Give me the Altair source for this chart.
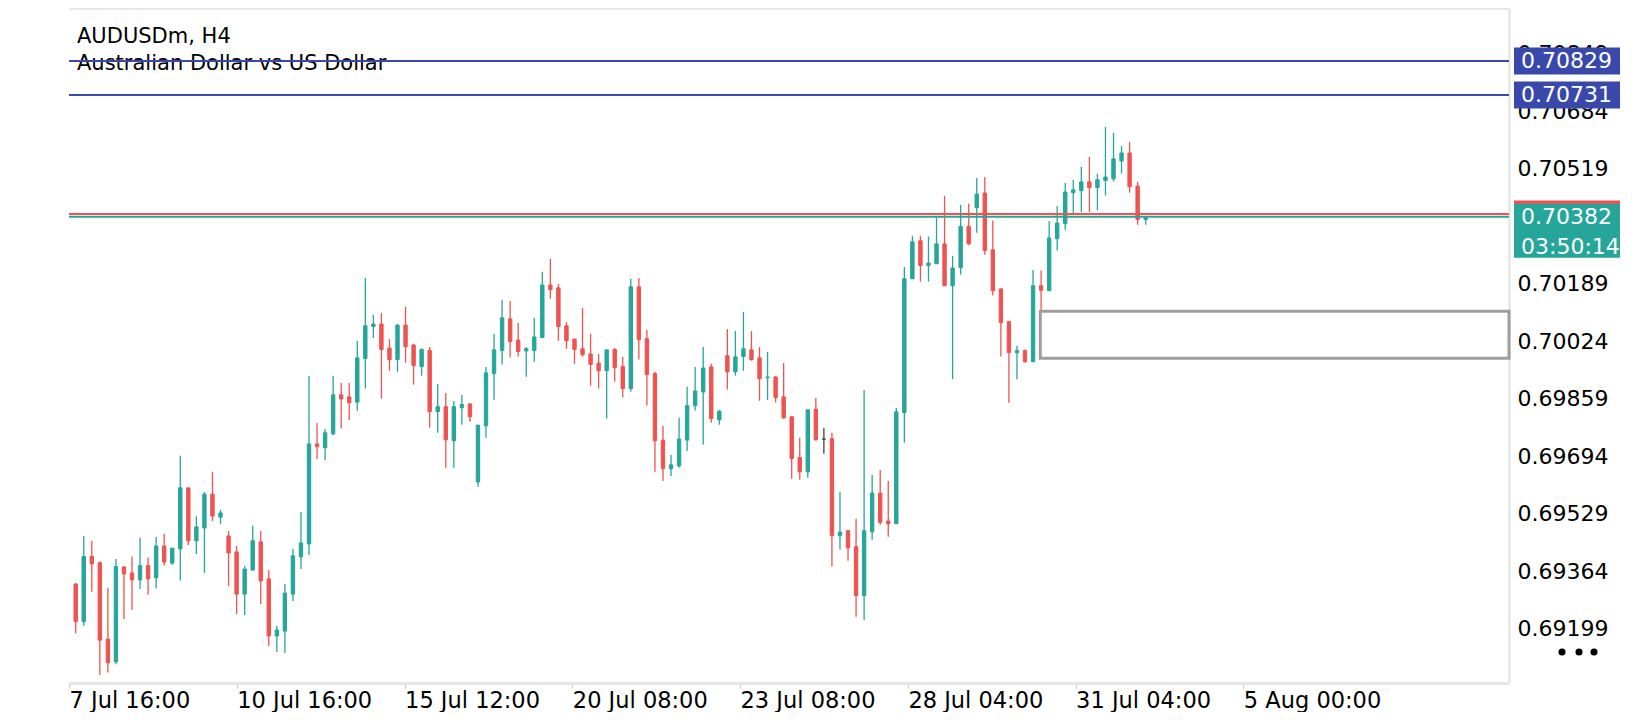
import altair as alt
import pandas as pd

# ---------------- data ----------------
opens = [0.69328, 0.69220, 0.69407, 0.69389, 0.69170, 0.69105, 0.69377, 0.69360, 0.69340, 0.69381,
         0.69346, 0.69437, 0.69388, 0.69429, 0.69604, 0.69452, 0.69489, 0.69586, 0.69520, 0.69466,
         0.69420, 0.69299, 0.69368, 0.69449, 0.69343, 0.69179, 0.69193, 0.69299, 0.69406, 0.69443,
         0.69730, 0.69719, 0.69759, 0.69871, 0.69865, 0.69850, 0.69975, 0.70067, 0.70074, 0.70005,
         0.69972, 0.70071, 0.70014, 0.69952, 0.69998, 0.69823, 0.69837, 0.69739, 0.69834, 0.69845,
         0.69621, 0.69782, 0.69932, 0.69998, 0.70089, 0.70028, 0.69997, 0.69998, 0.70035, 0.70186,
         0.70178, 0.70069, 0.70031, 0.70003, 0.69988, 0.69962, 0.69940, 0.70001, 0.69952, 0.69889,
         0.70181, 0.70032, 0.69932, 0.69741, 0.69659, 0.69667, 0.69741, 0.69840, 0.69879, 0.69951,
         0.69799, 0.69983, 0.69937, 0.69981, 0.70000, 0.69977, 0.69920, 0.69922, 0.69865, 0.69808,
         0.69691, 0.69650, 0.69830, 0.69744, 0.69745, 0.69467, 0.69481, 0.69435, 0.69295, 0.69478,
         0.69589, 0.69509, 0.69501, 0.69820, 0.70204, 0.70313, 0.70242, 0.70247, 0.70304, 0.70184,
         0.70236, 0.70354, 0.70408, 0.70450, 0.70287, 0.70175, 0.70081, 0.69992, 0.69998, 0.69966,
         0.70184, 0.70170, 0.70319, 0.70362, 0.70451, 0.70457, 0.70482, 0.70466, 0.70486, 0.70491,
         0.70542, 0.70565, 0.70470, 0.70374]
highs = [0.69330, 0.69466, 0.69452, 0.69393, 0.69317, 0.69400, 0.69378, 0.69407, 0.69461, 0.69404,
         0.69463, 0.69472, 0.69431, 0.69696, 0.69604, 0.69523, 0.69592, 0.69650, 0.69541, 0.69480,
         0.69437, 0.69380, 0.69495, 0.69480, 0.69368, 0.69208, 0.69328, 0.69429, 0.69535, 0.69925,
         0.69790, 0.69773, 0.69925, 0.69905, 0.69905, 0.70026, 0.70206, 0.70100, 0.70106, 0.70031,
         0.70074, 0.70123, 0.70017, 0.70004, 0.70008, 0.69902, 0.69876, 0.69853, 0.69871, 0.69845,
         0.69784, 0.69951, 0.70046, 0.70143, 0.70140, 0.70077, 0.70008, 0.70092, 0.70224, 0.70261,
         0.70189, 0.70080, 0.70031, 0.70120, 0.70046, 0.69988, 0.70000, 0.70005, 0.69980, 0.70204,
         0.70206, 0.70057, 0.69937, 0.69782, 0.69698, 0.69805, 0.69894, 0.69951, 0.70008, 0.69960,
         0.69828, 0.70060, 0.70054, 0.70109, 0.70054, 0.70008, 0.69994, 0.69925, 0.69962, 0.69808,
         0.69748, 0.69828, 0.69862, 0.69776, 0.69762, 0.69592, 0.69483, 0.69515, 0.69885, 0.69641,
         0.69655, 0.69624, 0.69833, 0.70238, 0.70327, 0.70327, 0.70325, 0.70379, 0.70442, 0.70270,
         0.70416, 0.70419, 0.70493, 0.70496, 0.70371, 0.70175, 0.70083, 0.70012, 0.70001, 0.70229,
         0.70228, 0.70370, 0.70413, 0.70479, 0.70488, 0.70525, 0.70554, 0.70505, 0.70640, 0.70623,
         0.70585, 0.70597, 0.70482, 0.70382]
lows = [0.69187, 0.69208, 0.69306, 0.69067, 0.69074, 0.69098, 0.69228, 0.69254, 0.69314, 0.69297,
        0.69315, 0.69381, 0.69383, 0.69338, 0.69440, 0.69414, 0.69360, 0.69509, 0.69500, 0.69322,
        0.69242, 0.69239, 0.69368, 0.69271, 0.69150, 0.69133, 0.69130, 0.69279, 0.69371, 0.69411,
        0.69687, 0.69684, 0.69756, 0.69774, 0.69799, 0.69825, 0.69889, 0.70034, 0.69860, 0.69940,
        0.69937, 0.69963, 0.69900, 0.69926, 0.69777, 0.69762, 0.69662, 0.69662, 0.69785, 0.69794,
        0.69607, 0.69748, 0.69857, 0.69958, 0.69978, 0.69981, 0.69923, 0.69966, 0.70035, 0.70147,
        0.70026, 0.70003, 0.69960, 0.69981, 0.69897, 0.69889, 0.69803, 0.69909, 0.69863, 0.69880,
        0.69972, 0.69840, 0.69650, 0.69624, 0.69638, 0.69662, 0.69710, 0.69826, 0.69728, 0.69791,
        0.69785, 0.69886, 0.69926, 0.69940, 0.69969, 0.69854, 0.69856, 0.69849, 0.69802, 0.69630,
        0.69627, 0.69633, 0.69739, 0.69702, 0.69378, 0.69427, 0.69395, 0.69234, 0.69225, 0.69455,
        0.69498, 0.69464, 0.69501, 0.69734, 0.70204, 0.70196, 0.70196, 0.70247, 0.70184, 0.69916,
        0.70216, 0.70301, 0.70336, 0.70273, 0.70156, 0.69981, 0.69848, 0.69916, 0.69963, 0.69966,
        0.70110, 0.70170, 0.70285, 0.70345, 0.70393, 0.70395, 0.70396, 0.70400, 0.70443, 0.70483,
        0.70506, 0.70451, 0.70359, 0.70359]
closes = [0.69220, 0.69407, 0.69386, 0.69167, 0.69102, 0.69378, 0.69357, 0.69340, 0.69381, 0.69343,
          0.69437, 0.69391, 0.69431, 0.69604, 0.69452, 0.69492, 0.69586, 0.69523, 0.69532, 0.69417,
          0.69299, 0.69371, 0.69452, 0.69337, 0.69179, 0.69196, 0.69302, 0.69409, 0.69446, 0.69730,
          0.69722, 0.69762, 0.69871, 0.69859, 0.69848, 0.69977, 0.70069, 0.70074, 0.70001, 0.69972,
          0.70071, 0.70009, 0.69955, 0.70001, 0.69823, 0.69837, 0.69742, 0.69837, 0.69843, 0.69808,
          0.69784, 0.69934, 0.70000, 0.70092, 0.70024, 0.69995, 0.70003, 0.70037, 0.70186, 0.70173,
          0.70067, 0.70026, 0.70001, 0.69986, 0.69958, 0.69940, 0.70000, 0.69949, 0.69889, 0.70181,
          0.70029, 0.69929, 0.69739, 0.69659, 0.69670, 0.69744, 0.69840, 0.69882, 0.69948, 0.69803,
          0.69824, 0.69937, 0.69980, 0.70003, 0.69972, 0.69917, 0.69922, 0.69863, 0.69805, 0.69688,
          0.69650, 0.69828, 0.69742, 0.69744, 0.69467, 0.69477, 0.69432, 0.69295, 0.69481, 0.69589,
          0.69505, 0.69501, 0.69822, 0.70204, 0.70310, 0.70242, 0.70249, 0.70304, 0.70184, 0.70235,
          0.70354, 0.70304, 0.70447, 0.70285, 0.70170, 0.70078, 0.69992, 0.69998, 0.69966, 0.70184,
          0.70171, 0.70321, 0.70364, 0.70453, 0.70459, 0.70482, 0.70466, 0.70488, 0.70496, 0.70548,
          0.70565, 0.70468, 0.70374, 0.70382]

x_tick_pos = [-0.82, 20.02, 40.88, 61.73, 82.58, 103.44, 124.29, 145.14]
x_tick_labels = ["7 Jul 16:00", "10 Jul 16:00", "15 Jul 12:00", "20 Jul 08:00",
                 "23 Jul 08:00", "28 Jul 04:00", "31 Jul 04:00", "5 Aug 00:00"]
y_ticks = [0.69199, 0.69364, 0.69529, 0.69694, 0.69859, 0.70024, 0.70189,
           0.70354, 0.70519, 0.70684, 0.70849]

symbol_title = "AUDUSDm, H4"
symbol_desc = "Australian Dollar vs US Dollar"
level_prices = [0.70829, 0.70731]
bid_price = 0.70382
ask_price = 0.70390
countdown = "03:50:14"
zone_start = 119.9
zone_top = 0.70111
zone_bottom = 0.69976

X_DOMAIN = [-0.833, 178.16]
Y_DOMAIN = [0.69044, 0.70981]

# ---------------- styling ----------------
FONT = "DejaVu Sans"
UP, DOWN, FLAT, LEVEL = "#26a69a", "#ef5350", "#424242", "#3949ab"
BORDER = "#e6e6e6"

n = len(opens)
candles = pd.DataFrame({
    "i": list(range(n)),
    "o": opens, "h": highs, "l": lows, "c": closes,
})
candles["dir"] = ["up" if c > o else ("down" if c < o else "flat")
                  for o, c in zip(opens, closes)]

cscale = alt.Scale(domain=["up", "down", "flat", "level"], range=[UP, DOWN, FLAT, LEVEL])
xs = alt.Scale(domain=X_DOMAIN, nice=False, zero=False, padding=0)
ys = alt.Scale(domain=Y_DOMAIN, nice=False, zero=False, padding=0)

mids = [(a + b) / 2 for a, b in zip(x_tick_pos[:-1], x_tick_pos[1:])]
label_expr = f"'{x_tick_labels[-1]}'"
for m, lab in reversed(list(zip(mids, x_tick_labels[:-1]))):
    label_expr = f"datum.value < {m:.3f} ? '{lab}' : ({label_expr})"

x_axis = alt.Axis(values=x_tick_pos, labelExpr=label_expr, labelAlign="left",
                  labelFont=FONT, labelFontSize=22.5, labelColor="#000000",
                  labelFlush=False, labelOverlap=False, labelBound=False,
                  tickColor="#c8c8c8", tickSize=5, tickWidth=1,
                  domainColor=BORDER, domainWidth=3, grid=False, title=None,
                  labelPadding=1)
y_axis = alt.Axis(orient="right", values=y_ticks, format=".5f", labelFont=FONT,
                  labelFontSize=22, labelColor="#000000", ticks=False, labelPadding=8,
                  labelAlign="left", labelBaseline="middle", labelOverlap=False,
                  labelFlush=False, domainColor=BORDER, domainWidth=2.5, grid=False,
                  title=None, zindex=0)

base = alt.Chart(candles)
wicks = base.mark_rule(strokeWidth=1.3).encode(
    x=alt.X("i:Q", scale=xs, axis=x_axis),
    y=alt.Y("l:Q", scale=ys, axis=y_axis),
    y2="h:Q",
    color=alt.Color("dir:N", scale=cscale, legend=None),
)
bodies = base.mark_bar(width=3.4, strokeWidth=1).encode(
    x=alt.X("i:Q", scale=xs),
    y=alt.Y("o:Q", scale=ys),
    y2="c:Q",
    color=alt.Color("dir:N", scale=cscale, legend=None),
    stroke=alt.Color("dir:N", scale=cscale, legend=None),
)

zone_df = pd.DataFrame({"x1": [zone_start], "x2": [X_DOMAIN[1]],
                        "y1": [zone_top], "y2": [zone_bottom]})
zone = alt.Chart(zone_df).mark_rect(fillOpacity=0, stroke="#9e9e9e", strokeWidth=3).encode(
    x=alt.X("x1:Q", scale=xs), x2="x2:Q",
    y=alt.Y("y1:Q", scale=ys), y2="y2:Q",
)

lines_df = pd.DataFrame({
    "p": level_prices + [ask_price, bid_price],
    "kind": ["level"] * len(level_prices) + ["down", "up"],
})
lines = alt.Chart(lines_df).mark_rule(strokeWidth=2).encode(
    y=alt.Y("p:Q", scale=ys),
    color=alt.Color("kind:N", scale=cscale, legend=None),
)

SHORT_BOX = "M-1,-0.2547L1,-0.2547L1,0.2547L-1,0.2547Z"
TALL_BOX = "M-1,-0.5094L1,-0.5094L1,0.5094L-1,0.5094Z"
BOX_X = 1498
TEXT_X = 1452

ask_df = pd.DataFrame({"p": [ask_price], "kind": ["down"]})
ask_box = alt.Chart(ask_df).mark_point(shape=SHORT_BOX, size=106 ** 2, filled=True,
                                       opacity=1, strokeWidth=0).encode(
    x=alt.value(BOX_X), y=alt.Y("p:Q", scale=ys),
    color=alt.Color("kind:N", scale=cscale, legend=None),
)

lvl_df = pd.DataFrame({"p": level_prices, "kind": ["level"] * len(level_prices),
                       "t": [f"{p:.5f}" for p in level_prices]})
lvl_box = alt.Chart(lvl_df).mark_point(shape=SHORT_BOX, size=106 ** 2, filled=True,
                                       opacity=1, strokeWidth=0).encode(
    x=alt.value(BOX_X), y=alt.Y("p:Q", scale=ys),
    color=alt.Color("kind:N", scale=cscale, legend=None),
)
lvl_text = alt.Chart(lvl_df).mark_text(align="left", baseline="middle", font=FONT,
                                       fontSize=22, color="#ffffff").encode(
    x=alt.value(TEXT_X), y=alt.Y("p:Q", scale=ys), text="t:N",
)

bid_df = pd.DataFrame({"p": [bid_price], "kind": ["up"], "t": [f"{bid_price:.5f}"],
                       "cd": [countdown]})
bid_box = alt.Chart(bid_df).mark_point(shape=TALL_BOX, size=106 ** 2, filled=True,
                                       opacity=1, strokeWidth=0, yOffset=14).encode(
    x=alt.value(BOX_X), y=alt.Y("p:Q", scale=ys),
    color=alt.Color("kind:N", scale=cscale, legend=None),
)
bid_text = alt.Chart(bid_df).mark_text(align="left", baseline="middle", font=FONT,
                                       fontSize=22, color="#ffffff").encode(
    x=alt.value(TEXT_X), y=alt.Y("p:Q", scale=ys), text="t:N",
)
cd_text = alt.Chart(bid_df).mark_text(align="left", baseline="middle", font=FONT,
                                      fontSize=22, color="#ffffff", yOffset=30).encode(
    x=alt.value(TEXT_X), y=alt.Y("p:Q", scale=ys), text="cd:N",
)

one = pd.DataFrame({"a": [0]})
title1 = alt.Chart(one).mark_text(align="left", baseline="alphabetic", font=FONT,
                                  fontSize=21, color="#000000").encode(
    x=alt.value(8), y=alt.value(34.7), text=alt.value(symbol_title))
title2 = alt.Chart(one).mark_text(align="left", baseline="alphabetic", font=FONT,
                                  fontSize=21, color="#000000").encode(
    x=alt.value(8), y=alt.value(62), text=alt.value(symbol_desc))

top_border = alt.Chart(one).mark_rule(color=BORDER, strokeWidth=2).encode(y=alt.value(1))

dots = [alt.Chart(one).mark_point(filled=True, size=50, color="#000000", opacity=1).encode(
    x=alt.value(dx), y=alt.value(644)) for dx in (1493, 1510, 1525)]

chart = alt.layer(
    wicks, bodies, zone, title1, title2, lines, ask_box, lvl_box, lvl_text,
    bid_box, bid_text, cd_text, top_border, *dots
).properties(
    width=1440, height=675,
    autosize=alt.AutoSizeParams(type="none"),
    padding={"left": 61, "top": 0, "right": 123, "bottom": 29},
    background="#ffffff",
).configure_view(strokeWidth=0)

chart.save("out.html", embed_options={"renderer": "svg", "actions": False})
